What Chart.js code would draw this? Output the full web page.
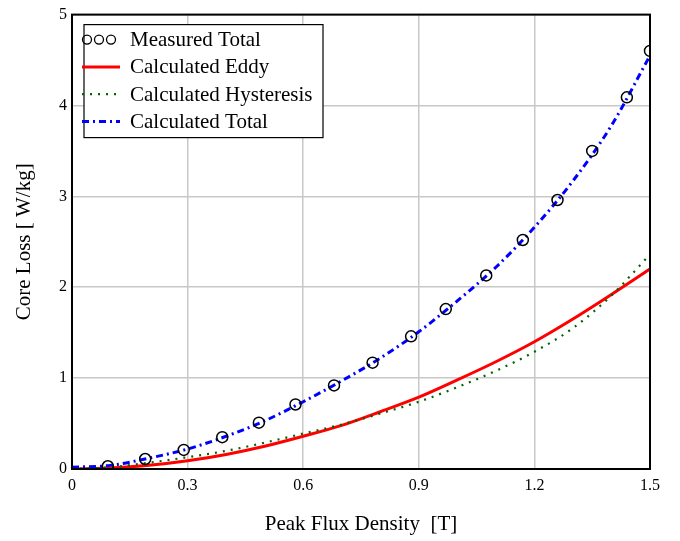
<!DOCTYPE html>
<html>
<head>
<meta charset="utf-8">
<script src="https://cdn.jsdelivr.net/npm/chart.js@4.4.0/dist/chart.umd.min.js"></script>
<style>
  html, body { margin: 0; padding: 0; background: #fff; }
  #wrap { width: 680px; height: 541px; }
</style>
</head>
<body>
<div id="wrap"><canvas id="lossChart" width="680" height="541"></canvas></div>
<script>
// measured points
const measuredB = [0.093, 0.19, 0.29, 0.39, 0.485, 0.58, 0.68, 0.78, 0.88, 0.97, 1.075, 1.17, 1.26, 1.35, 1.44, 1.50];
const measuredTotal = [0.03, 0.11, 0.21, 0.35, 0.51, 0.71, 0.92, 1.17, 1.46, 1.76, 2.13, 2.52, 2.96, 3.50, 4.09, 4.60];

// calculated curves
const calcB = [0, 0.1, 0.2, 0.3, 0.4, 0.5, 0.6, 0.7, 0.8, 0.9, 1.0, 1.1, 1.2, 1.3, 1.4, 1.5];
const calcEddy = [0, 0.01, 0.04, 0.09, 0.16, 0.25, 0.36, 0.48, 0.63, 0.79, 0.98, 1.18, 1.40, 1.65, 1.92, 2.20];
const calcHyst = [0, 0.02, 0.07, 0.13, 0.20, 0.29, 0.39, 0.49, 0.61, 0.74, 0.90, 1.08, 1.29, 1.55, 1.91, 2.36];
const calcTotal = [0.02, 0.04, 0.12, 0.22, 0.36, 0.53, 0.74, 0.97, 1.22, 1.51, 1.85, 2.22, 2.66, 3.17, 3.78, 4.55];

const seriesNames = ["Measured Total", "Calculated Eddy", "Calculated Hysteresis", "Calculated Total"];
const xTicks = [0, 0.3, 0.6, 0.9, 1.2, 1.5];
const yTicks = [0, 1, 2, 3, 4, 5];

const serif = "'Liberation Serif', 'DejaVu Serif', serif";

function pts(xs, ys) {
  return xs.map((x, i) => ({ x: x, y: ys[i] }));
}

// frame round the plot + legend box drawn inside the plot area
const framePlugin = {
  id: "framePlugin",
  afterDatasetsDraw(chart) {
    const ctx = chart.ctx;
    const a = chart.chartArea;
    ctx.save();
    ctx.strokeStyle = "#000";
    ctx.lineWidth = 2;
    ctx.strokeRect(a.left, a.top, a.right - a.left, a.bottom - a.top);

    // legend
    const bx = a.left + 12, by = a.top + 10, bw = 239, bh = 113;
    ctx.fillStyle = "#fff";
    ctx.fillRect(bx, by, bw, bh);
    ctx.lineWidth = 1.2;
    ctx.strokeRect(bx, by, bw, bh);

    ctx.font = "21px " + serif;
    ctx.fillStyle = "#000";
    ctx.textBaseline = "middle";
    const rowH = 27.3;
    chart.data.datasets.forEach((ds, i) => {
      const y = by + 15 + i * rowH;
      const x0 = bx - 6, x1 = bx + 36;
      if (i === 0) {
        ctx.strokeStyle = "#000";
        ctx.lineWidth = 1.3;
        [x0 + 9, x0 + 21, x0 + 33].forEach(cx => {
          ctx.beginPath();
          ctx.arc(cx, y, 4.5, 0, Math.PI * 2);
          ctx.stroke();
        });
      } else {
        ctx.strokeStyle = ds.borderColor;
        ctx.lineWidth = ds.borderWidth;
        ctx.setLineDash(ds.borderDash || []);
        ctx.beginPath();
        ctx.moveTo(x0 + 4, y);
        ctx.lineTo(x1, y);
        ctx.stroke();
        ctx.setLineDash([]);
      }
      ctx.fillText(ds.label, bx + 46, y + 1);
    });
    ctx.restore();
  }
};

new Chart(document.getElementById("lossChart").getContext("2d"), {
  type: "line",
  data: {
    datasets: [
      {
        label: seriesNames[0],
        data: pts(measuredB, measuredTotal),
        showLine: false,
        pointStyle: "circle",
        pointRadius: 5.5,
        pointBorderWidth: 1.5,
        pointBorderColor: "#000",
        pointBackgroundColor: "rgba(255,255,255,0)",
        borderColor: "#000",
        order: 0,
      },
      {
        label: seriesNames[1],
        data: pts(calcB, calcEddy),
        borderColor: "#ff0000",
        borderWidth: 3,
        pointRadius: 0,
        cubicInterpolationMode: "monotone",
        order: 2,
      },
      {
        label: seriesNames[2],
        data: pts(calcB, calcHyst),
        borderColor: "#006400",
        borderWidth: 2.2,
        borderDash: [2, 6],
        pointRadius: 0,
        cubicInterpolationMode: "monotone",
        order: 1,
      },
      {
        label: seriesNames[3],
        data: pts(calcB, calcTotal),
        borderColor: "#0000ff",
        borderWidth: 3,
        borderDash: [7, 4, 2, 4],
        pointRadius: 0,
        cubicInterpolationMode: "monotone",
        order: 1,
      },
    ],
  },
  options: {
    responsive: false,
    animation: false,
    layout: { padding: { left: 0, right: 30, top: 12, bottom: 0 } },
    plugins: {
      legend: { display: false },
      tooltip: { enabled: false },
    },
    scales: {
      x: {
        type: "linear",
        min: 0,
        max: 1.5,
        afterBuildTicks: scale => { scale.ticks = xTicks.map(v => ({ value: v })); },
        afterFit: scale => { scale.height = 72; },
        ticks: {
          color: "#000",
          font: { family: serif, size: 16 },
          padding: 7,
          maxRotation: 0,
          callback: v => String(v),
        },
        grid: { color: "#c8c8c8", lineWidth: 1.5, drawTicks: false },
        border: { color: "#000", width: 2 },
        title: {
          display: true,
          text: "Peak Flux Density  [T]",
          color: "#000",
          font: { family: serif, size: 21 },
          padding: { top: 0, bottom: 4 },
        },
      },
      y: {
        min: 0,
        max: 5,
        afterBuildTicks: scale => { scale.ticks = yTicks.map(v => ({ value: v })); },
        afterFit: scale => { scale.width = 72; },
        ticks: {
          color: "#000",
          font: { family: serif, size: 16 },
          padding: 5,
        },
        grid: { color: "#c8c8c8", lineWidth: 1.5, drawTicks: false },
        border: { color: "#000", width: 2 },
        title: {
          display: true,
          text: "Core Loss [ W/kg]",
          color: "#000",
          font: { family: serif, size: 21 },
          padding: { top: 12, bottom: 0 },
        },
      },
    },
  },
  plugins: [framePlugin],
});
</script>
</body>
</html>
